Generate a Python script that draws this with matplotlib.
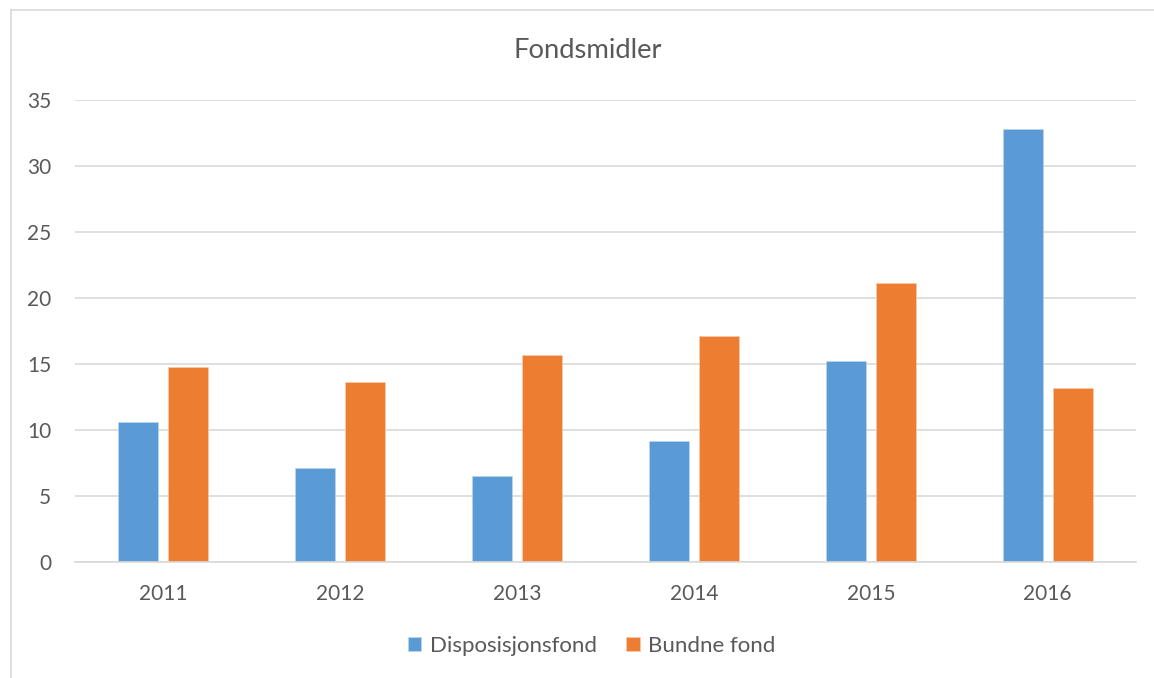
import matplotlib
matplotlib.use("Agg")
import matplotlib.pyplot as plt
from matplotlib.lines import Line2D
import numpy as np

years = ["2011", "2012", "2013", "2014", "2015", "2016"]
disposisjonsfond = [10.6, 7.1, 6.5, 9.2, 15.2, 32.8]
bundne_fond = [14.8, 13.6, 15.7, 17.1, 21.1, 13.2]
series_names = ["Disposisjonsfond", "Bundne fond"]
title = "Fondsmidler"
yticks = [0, 5, 10, 15, 20, 25, 30, 35]

BLUE = "#5B9BD5"
ORANGE = "#ED7D31"
TEXT = "#595959"
GRID = "#D9D9D9"

plt.rcParams['font.family'] = ['Lato', 'DejaVu Sans']

W, H = 1154, 678
fig = plt.figure(figsize=(W / 100, H / 100), dpi=100)
fig.patch.set_facecolor("white")

# outer chart border (left and top visible)
fig.add_artist(Line2D([11 / W, 11 / W], [0, 1 - 10 / H], color=GRID, lw=1.2, transform=fig.transFigure))
fig.add_artist(Line2D([11 / W, 1], [1 - 10 / H, 1 - 10 / H], color=GRID, lw=1.2, transform=fig.transFigure))

ax = fig.add_axes([75 / W, 116 / H, (1136 - 75) / W, (562 - 100) / H])
x = np.arange(len(years))
bw = 40 / 177
off = 25 / 177
ax.bar(x - off, disposisjonsfond, bw, color=BLUE, edgecolor="#BDD7EE", linewidth=0.5, zorder=3,
       label=series_names[0])
ax.bar(x + off, bundne_fond, bw, color=ORANGE, edgecolor="#F8CBAD", linewidth=0.5, zorder=3,
       label=series_names[1])

ax.set_xlim(-0.5, len(years) - 0.5)
ax.set_ylim(0, 35)
ax.set_yticks(yticks)
ax.set_yticklabels([str(v) for v in yticks])
ax.set_xticks(x)
ax.set_xticklabels(years)
ax.tick_params(axis='both', length=0, labelsize=15, colors=TEXT)
ax.tick_params(axis='y', pad=17)
ax.tick_params(axis='x', pad=16)
ax.grid(axis='y', color=GRID, lw=1.2, zorder=0)
for s in ["top", "right", "left"]:
    ax.spines[s].set_visible(False)
ax.spines["bottom"].set_color(GRID)
ax.spines["bottom"].set_linewidth(1.2)
ax.spines["bottom"].set_zorder(4)

fig.text(588 / W, 1 - 50 / H, title, ha="center", va="center", fontsize=19.7, color=TEXT)

leg = fig.legend(loc="center", bbox_to_anchor=(592 / W, 1 - 646 / H), ncol=2, frameon=False,
                 fontsize=16, labelcolor=TEXT, handlelength=0.6, handleheight=0.6,
                 handletextpad=0.4, columnspacing=1.3)
for t in leg.get_texts():
    t.set_color(TEXT)

fig.savefig("out.png", dpi=100, facecolor="white")
